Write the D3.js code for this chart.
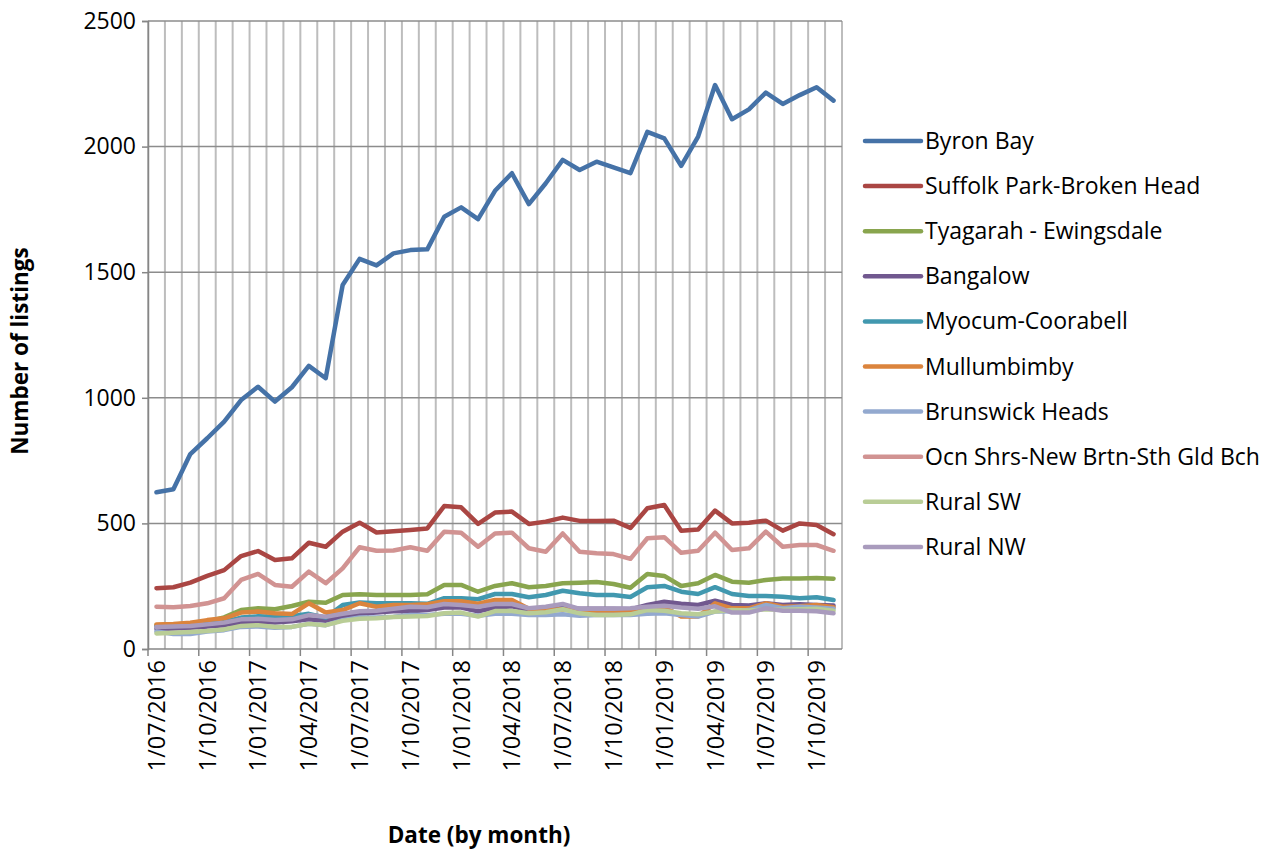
<!DOCTYPE html>
<html>
<head>
<meta charset="utf-8">
<script src="https://cdn.jsdelivr.net/npm/d3@7"></script>
<style>
  body { margin: 0; background: #fff; }
  text { font-family: "Open Sans", "Liberation Sans", sans-serif; fill: #000; }
</style>
</head>
<body>
<svg width="1276" height="851"></svg>
<script>
// monthly categories, Jul 2016 .. Nov 2019
var months = ["1/07/2016","1/08/2016","1/09/2016","1/10/2016","1/11/2016","1/12/2016",
  "1/01/2017","1/02/2017","1/03/2017","1/04/2017","1/05/2017","1/06/2017",
  "1/07/2017","1/08/2017","1/09/2017","1/10/2017","1/11/2017","1/12/2017",
  "1/01/2018","1/02/2018","1/03/2018","1/04/2018","1/05/2018","1/06/2018",
  "1/07/2018","1/08/2018","1/09/2018","1/10/2018","1/11/2018","1/12/2018",
  "1/01/2019","1/02/2019","1/03/2019","1/04/2019","1/05/2019","1/06/2019",
  "1/07/2019","1/08/2019","1/09/2019","1/10/2019","1/11/2019"];

var tickLabels = ["1/07/2016","1/10/2016","1/01/2017","1/04/2017","1/07/2017","1/10/2017",
  "1/01/2018","1/04/2018","1/07/2018","1/10/2018","1/01/2019","1/04/2019","1/07/2019","1/10/2019"];

var yTicks = [0, 500, 1000, 1500, 2000, 2500];

var seriesNames = ["Byron Bay","Suffolk Park-Broken Head","Tyagarah - Ewingsdale","Bangalow",
  "Myocum-Coorabell","Mullumbimby","Brunswick Heads","Ocn Shrs-New Brtn-Sth Gld Bch","Rural SW","Rural NW"];

var colors = ["#4572A7","#AA4643","#89A54E","#71588F","#4198AF","#DB843D","#93A9CF","#D19392","#B9CD96","#A99BBD"];

var byronBay = [624,636,776,839,905,991,1044,985,1042,1127,1078,1449,1553,1527,1575,1588,1591,
  1721,1758,1711,1824,1894,1771,1854,1947,1907,1940,1917,1894,2059,2033,1923,2040,2245,2109,2148,2215,2170,2205,2236,2183];
var suffolkPark = [242,246,264,291,314,370,390,354,361,423,407,467,503,464,469,474,480,
  569,564,498,543,547,498,507,523,510,510,511,482,560,573,471,476,551,500,503,511,471,500,494,457];
var tyagarah = [95,98,102,110,126,155,162,158,171,188,184,215,218,215,215,215,218,
  255,255,228,251,262,246,251,262,264,267,259,244,299,291,251,262,295,268,264,275,281,281,283,280];
var bangalow = [80,82,85,90,95,105,108,105,110,118,112,130,140,145,150,150,155,
  165,165,150,165,170,155,158,165,160,160,160,158,175,188,180,175,192,175,173,182,175,178,175,173];
var myocum = [90,92,95,100,108,125,130,128,130,140,125,175,185,182,182,182,180,
  202,202,198,219,219,206,215,232,222,215,215,207,246,251,228,219,246,219,211,211,208,202,206,195];
var mullumbimby = [98,100,105,115,122,145,149,142,139,182,145,155,182,168,175,175,178,
  190,190,180,195,195,160,155,158,150,150,150,150,160,165,129,129,182,162,162,182,168,170,175,166];
var brunswick = [70,60,60,70,75,88,90,85,88,100,95,115,125,125,128,135,135,
  140,140,132,140,140,135,135,138,132,135,135,135,140,142,135,129,149,150,155,175,162,168,165,160];
var oceanShores = [168,166,171,182,202,275,299,255,248,308,262,321,405,391,392,405,391,
  467,463,407,460,463,401,387,460,387,381,378,359,441,445,383,391,463,394,401,467,407,414,414,391];
var ruralSW = [62,65,68,72,78,92,95,88,88,100,95,112,120,122,127,129,131,
  142,145,129,151,151,142,146,158,142,135,135,138,155,152,142,138,149,155,153,158,156,158,160,152];
var ruralNW = [88,90,92,98,105,118,120,115,118,135,128,140,150,152,160,168,166,
  179,175,168,179,179,162,168,179,160,160,160,162,168,172,165,160,170,145,145,162,152,152,150,142];

var seriesValues = [byronBay, suffolkPark, tyagarah, bangalow, myocum, mullumbimby,
  brunswick, oceanShores, ruralSW, ruralNW];

var svg = d3.select("svg"),
    margin = {top: 21, left: 148},
    width = 694,
    height = 628;

var x = d3.scaleBand().domain(months).range([0, width]).padding(0),
    y = d3.scaleLinear().domain([0, 2500]).range([height, 0]);

var g = svg.append("g")
    .attr("transform", "translate(" + margin.left + "," + margin.top + ")");

// vertical gridlines at each month boundary
var bounds = months.map(function(m) { return x(m); }).concat([width]);
g.selectAll(".vgrid")
  .data(bounds)
  .enter().append("line")
    .attr("class", "vgrid")
    .attr("x1", function(d) { return d; })
    .attr("x2", function(d) { return d; })
    .attr("y1", 0)
    .attr("y2", height)
    .attr("stroke", "#bdbdbd")
    .attr("stroke-width", 2);

// horizontal gridlines
g.selectAll(".hgrid")
  .data(yTicks.slice(1))
  .enter().append("line")
    .attr("class", "hgrid")
    .attr("x1", 0)
    .attr("x2", width)
    .attr("y1", function(d) { return y(d); })
    .attr("y2", function(d) { return y(d); })
    .attr("stroke", "#8c8c8c")
    .attr("stroke-width", 1.5);

// y axis
var yAxis = d3.axisLeft(y).tickValues(yTicks).tickFormat(d3.format("d")).tickSize(6).tickPadding(6);
var gy = g.append("g").call(yAxis);
gy.select(".domain").attr("stroke", "#868686").attr("stroke-width", 1.5);
gy.selectAll(".tick line").attr("stroke", "#868686").attr("stroke-width", 1.5);
gy.selectAll(".tick text").style("font-size", "23px").style("font-family", "Open Sans");

// x axis: major ticks every 3 months, labels centred on months
var gx = g.append("g").attr("transform", "translate(0," + height + ")");
gx.append("line")
    .attr("x1", 0).attr("x2", width)
    .attr("stroke", "#868686").attr("stroke-width", 1.5);
gx.selectAll(".major")
  .data(tickLabels)
  .enter().append("line")
    .attr("class", "major")
    .attr("x1", function(d) { return x(d); })
    .attr("x2", function(d) { return x(d); })
    .attr("y1", 0).attr("y2", 7)
    .attr("stroke", "#868686").attr("stroke-width", 1.5);
gx.selectAll(".lbl")
  .data(tickLabels)
  .enter().append("text")
    .attr("class", "lbl")
    .attr("transform", function(d) {
      return "translate(" + (x(d) + x.bandwidth() / 2) + ",11) rotate(-90)";
    })
    .attr("text-anchor", "end")
    .attr("dy", "0.36em")
    .style("font-size", "23.5px")
    .text(function(d) { return d; });

// series lines
var line = d3.line()
    .x(function(d, i) { return x(months[i]) + x.bandwidth() / 2; })
    .y(function(d) { return y(d); });

g.selectAll(".series")
  .data(seriesValues)
  .enter().append("path")
    .attr("class", "series")
    .attr("d", line)
    .attr("fill", "none")
    .attr("stroke", function(d, i) { return colors[i]; })
    .attr("stroke-width", 4.5)
    .attr("stroke-linejoin", "round")
    .attr("stroke-linecap", "round");

// axis titles
svg.append("text")
    .attr("transform", "translate(28," + (margin.top + height / 2 + 16) + ") rotate(-90)")
    .attr("text-anchor", "middle")
    .style("font-size", "22.5px")
    .style("font-weight", "bold")
    .text("Number of listings");

svg.append("text")
    .attr("x", 479)
    .attr("y", 843)
    .attr("text-anchor", "middle")
    .style("font-size", "22.5px")
    .style("font-weight", "bold")
    .text("Date (by month)");

// legend
var legend = svg.append("g").attr("transform", "translate(865,141)");
var item = legend.selectAll(".item")
  .data(seriesNames)
  .enter().append("g")
    .attr("class", "item")
    .attr("transform", function(d, i) { return "translate(0," + (i * 45.1) + ")"; });
item.append("line")
    .attr("x1", 0).attr("x2", 56)
    .attr("stroke", function(d, i) { return colors[i]; })
    .attr("stroke-width", 4.5)
    .attr("stroke-linecap", "round");
item.append("text")
    .attr("x", 60)
    .attr("dy", "0.35em")
    .style("font-size", "23px")
    .text(function(d) { return d; });
</script>
</body>
</html>
